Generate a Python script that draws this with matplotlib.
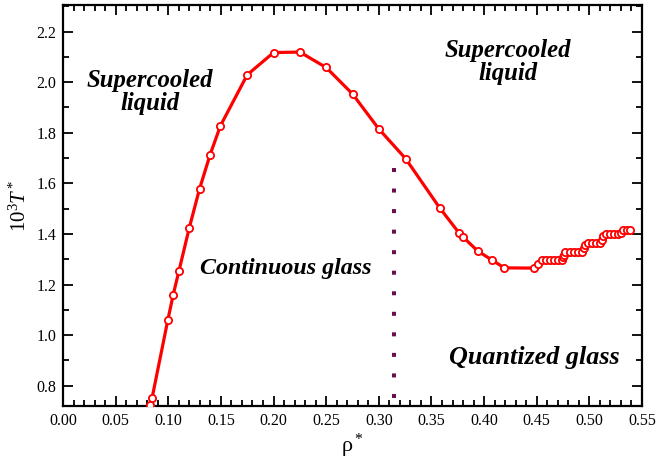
import matplotlib
matplotlib.use("Agg")
import matplotlib.pyplot as plt
from matplotlib.ticker import MultipleLocator, FormatStrFormatter

# density / temperature points of the boundary curve
rho = [0.0831, 0.0847, 0.0996, 0.1047, 0.1101, 0.1199, 0.1297, 0.1398, 0.1496,
       0.1750, 0.2000, 0.2250, 0.2500, 0.2751, 0.3000, 0.3254, 0.3580, 0.3764,
       0.3802, 0.3941, 0.4071, 0.4192, 0.4473, 0.4510, 0.4552, 0.4590, 0.4628,
       0.4666, 0.4704, 0.4738, 0.4748, 0.4758, 0.4773, 0.4818, 0.4856, 0.4894,
       0.4932, 0.4948, 0.4955, 0.4990, 0.5027, 0.5065, 0.5103, 0.5123, 0.5130,
       0.5155, 0.5193, 0.5231, 0.5269, 0.5300, 0.5315, 0.5355, 0.5390]
temp = [0.725, 0.753, 1.060, 1.160, 1.253, 1.423, 1.578, 1.714, 1.828,
        2.029, 2.117, 2.119, 2.058, 1.953, 1.815, 1.698, 1.502, 1.403,
        1.387, 1.332, 1.298, 1.266, 1.265, 1.281, 1.297, 1.297, 1.297,
        1.297, 1.297, 1.298, 1.307, 1.317, 1.329, 1.330, 1.330, 1.330,
        1.330, 1.343, 1.356, 1.366, 1.366, 1.366, 1.366, 1.378, 1.392,
        1.400, 1.400, 1.400, 1.400, 1.405, 1.416, 1.416, 1.416]

# vertical separator between continuous and quantized glass
sep_rho = 0.3145
sep_top = 1.662

plt.rcParams['font.family'] = ['Liberation Serif', 'DejaVu Serif']
plt.rcParams['mathtext.fontset'] = 'custom'
plt.rcParams['mathtext.rm'] = 'Liberation Serif'
plt.rcParams['mathtext.it'] = 'Liberation Serif:italic'
plt.rcParams['mathtext.bf'] = 'Liberation Serif:bold'

fig = plt.figure(figsize=(6.56, 4.68), dpi=100)
ax = fig.add_axes([0.096, 0.1325, 0.8827, 0.8568])

ax.plot(rho, temp, color='red', lw=2.3, marker='o', ms=5.2,
        mfc='white', mec='red', mew=1.3, zorder=3)

# drawn top-down so the dot pattern starts at the upper end
ax.plot([sep_rho, sep_rho], [sep_top, 0.70], color='#6a0f4e', lw=2.9,
        dashes=(1, 4.1), dash_capstyle='butt', zorder=2)

ax.set_xlim(0.0, 0.55)
ax.set_ylim(0.72, 2.305)
ax.xaxis.set_major_locator(MultipleLocator(0.05))
ax.xaxis.set_minor_locator(MultipleLocator(0.01))
ax.yaxis.set_major_locator(MultipleLocator(0.2))
ax.yaxis.set_minor_locator(MultipleLocator(0.1))
ax.xaxis.set_major_formatter(FormatStrFormatter('%.2f'))
ax.yaxis.set_major_formatter(FormatStrFormatter('%.1f'))

ax.tick_params(which='both', direction='in', top=True, right=True,
               width=1.3, labelsize=11.5)
ax.tick_params(which='major', length=7.5, pad=5)
ax.tick_params(which='minor', length=4)
for sp in ax.spines.values():
    sp.set_linewidth(1.6)

ax.set_xlabel(r'ρ$^*$', fontsize=16, labelpad=2)
ax.set_ylabel(r'$10^3 T^*$', fontsize=15, labelpad=4)

lbl = dict(fontweight='bold', fontstyle='italic',
           ha='center', va='center', linespacing=1.0)
ax.text(0.0826, 1.962, 'Supercooled\nliquid', fontsize=17.8, **lbl)
ax.text(0.4227, 2.080, 'Supercooled\nliquid', fontsize=17.8, **lbl)
ax.text(0.2118, 1.265, 'Continuous glass', fontsize=17.3, **lbl)
ax.text(0.448, 0.910, 'Quantized glass', fontsize=18.8, **lbl)

fig.savefig('out.png', dpi=100)
